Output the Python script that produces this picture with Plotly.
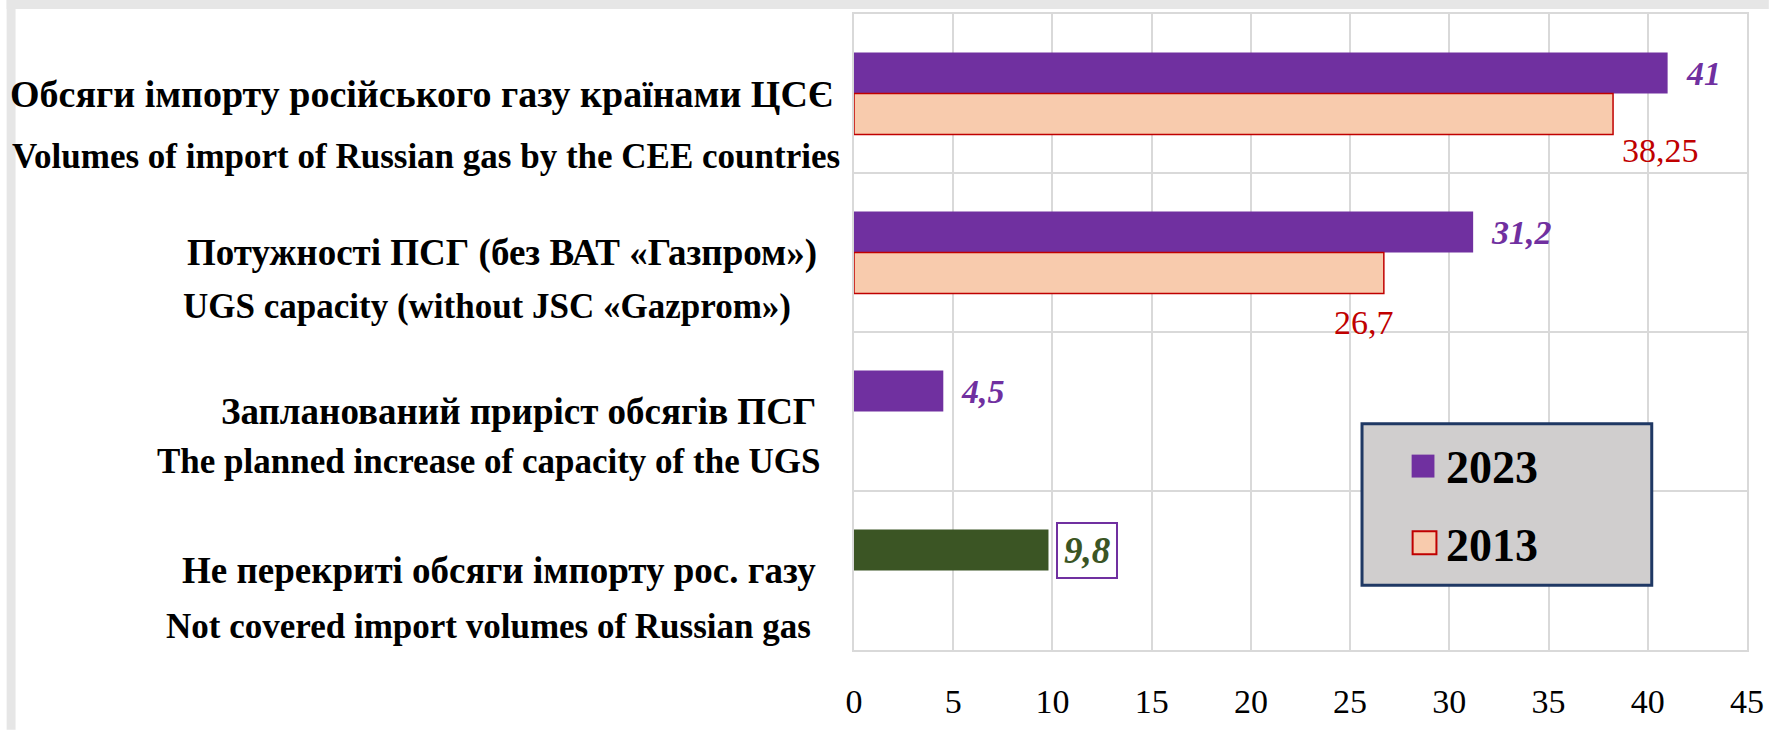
import plotly.graph_objects as go

# ---------------- data ----------------
cat_ua = [
    "Обсяги імпорту російського газу країнами ЦСЄ",
    "Потужності ПСГ (без ВАТ «Газпром»)",
    "Запланований приріст обсягів ПСГ",
    "Не перекриті обсяги імпорту рос. газу",
]
cat_en = [
    "Volumes of import of Russian gas by the CEE countries",
    "UGS capacity (without JSC «Gazprom»)",
    "The planned increase of capacity of the UGS",
    "Not covered import volumes of Russian gas",
]
series_names = ["2023", "2013"]
values_2023 = [41, 31.2, 4.5, 9.8]
values_2013 = [38.25, 26.7, None, None]
x_ticks = [0, 5, 10, 15, 20, 25, 30, 35, 40, 45]

# ---------------- styles ----------------
W, H = 1776, 732
ML, MR, MT, MB = 854, 22, 14, 80
PW, PH = W - ML - MR, H - MT - MB
FONT = "Liberation Serif"
PURPLE = "#7030a0"
GREEN = "#3b5524"
PEACH = "#f8cbad"
RED = "#c00000"
GRID = "#d9d9d9"
colors_2023 = [PURPLE, PURPLE, PURPLE, GREEN]
BARGAP = 0.485
slot = (1 - BARGAP) / 2

# label line styles
ua_right = [836, 819, 818, 818]
en_right = [842, 793, 822, 813]
ua_size = [38, 37, 37, 37]
en_size = [35, 35, 35, 35]
line2_dy = [63, 54, 50, 56]
lbl13_offsets = [(47, 16), (-20, 29)]  # (dx from bar end, dy below bar) in px


def px2x(px):
    return (px - ML) / PW


def py2y(py):
    return 1 - (py - MT) / PH


def fmt(v):
    return f"{v:g}".replace(".", ",")


ypos = list(range(len(cat_ua)))

fig = go.Figure()
fig.add_trace(go.Bar(
    name=series_names[0], y=ypos, x=values_2023, orientation="h",
    marker=dict(color=colors_2023, line=dict(width=0)), showlegend=False,
    hoverinfo="skip",
))
fig.add_trace(go.Bar(
    name=series_names[1], y=ypos, x=values_2013, orientation="h",
    marker=dict(color=PEACH, line=dict(color=RED, width=1.5)), showlegend=False,
    hoverinfo="skip",
))

ann = []
# category labels
for i, (ua, en) in enumerate(zip(cat_ua, cat_en)):
    ann.append(dict(text=ua, xref="paper", x=px2x(ua_right[i]), xanchor="right",
                    yref="y", y=i, yanchor="middle", showarrow=False,
                    font=dict(family=FONT, size=ua_size[i], color="black", weight="bold")))
    ann.append(dict(text=en, xref="paper", x=px2x(en_right[i]), xanchor="right",
                    yref="y", y=i, yanchor="middle", yshift=-line2_dy[i], showarrow=False,
                    font=dict(family=FONT, size=en_size[i], color="black", weight="bold")))

# 2023 value labels
for i, v in enumerate(values_2023):
    boxed = colors_2023[i] == GREEN
    d = dict(text=fmt(v), xref="x", x=v, xanchor="left", yref="y", y=i - slot / 2,
             yanchor="middle", showarrow=False, xshift=8 if boxed else 16,
             font=dict(family=FONT, size=37 if boxed else 34, color=colors_2023[i],
                       weight="bold", style="italic"))
    if boxed:
        d.update(bordercolor=PURPLE, borderwidth=2, borderpad=6, bgcolor="white")
    ann.append(d)

# 2013 value labels
for i, v in enumerate(values_2013):
    if v is None:
        continue
    dx, dy = lbl13_offsets[i]
    ann.append(dict(text=fmt(v), xref="x", x=v, xanchor="center", yref="y", y=i + slot,
                    yanchor="middle", xshift=dx, yshift=-dy, showarrow=False,
                    font=dict(family=FONT, size=34, color=RED)))

# manual legend
shapes = []
shapes.append(dict(type="rect", xref="paper", yref="paper", layer="above",
                   x0=px2x(1366), x1=px2x(1658), y0=py2y(425), y1=py2y(587),
                   fillcolor="#d0cece", line=dict(color="#1f3864", width=3)))
shapes.append(dict(type="rect", xref="paper", yref="paper", layer="above",
                   x0=px2x(1416), x1=px2x(1439), y0=py2y(456), y1=py2y(479),
                   fillcolor=PURPLE, line=dict(width=0)))
shapes.append(dict(type="rect", xref="paper", yref="paper", layer="above",
                   x0=px2x(1417), x1=px2x(1441), y0=py2y(533), y1=py2y(556),
                   fillcolor=PEACH, line=dict(color=RED, width=2)))
for name, cy in zip(series_names, [469, 547]):
    ann.append(dict(text=name, xref="paper", x=px2x(1449), xanchor="left",
                    yref="paper", y=py2y(cy), yanchor="middle", showarrow=False,
                    font=dict(family=FONT, size=46, color="black", weight="bold")))

# page grey border
shapes.append(dict(type="rect", xref="paper", yref="paper", layer="below",
                   x0=px2x(0), x1=px2x(W), y0=py2y(0), y1=py2y(9),
                   fillcolor="#e6e6e6", line=dict(width=0)))
shapes.append(dict(type="rect", xref="paper", yref="paper", layer="below",
                   x0=px2x(0), x1=px2x(9), y0=py2y(0), y1=py2y(H),
                   fillcolor="#e6e6e6", line=dict(width=0)))

fig.update_layout(
    width=W, height=H,
    margin=dict(l=ML, r=MR, t=MT, b=MB),
    paper_bgcolor="white", plot_bgcolor="white",
    barmode="group", bargap=BARGAP, bargroupgap=0,
    annotations=ann, shapes=shapes,
    xaxis=dict(range=[0, 45], tickvals=x_ticks, ticktext=[str(t) for t in x_ticks],
               showgrid=True, gridcolor=GRID, gridwidth=2, zeroline=False,
               showline=True, mirror=True, linecolor=GRID, linewidth=2,
               ticks="", ticklabelstandoff=20,
               tickfont=dict(family=FONT, size=34, color="black")),
    yaxis=dict(range=[len(cat_ua) - 0.5, -0.5], tickvals=[k - 0.5 for k in range(len(cat_ua) + 1)],
               showticklabels=False, showgrid=True, gridcolor=GRID, gridwidth=2,
               zeroline=False, showline=True, mirror=True, linecolor=GRID, linewidth=2,
               ticks=""),
)

fig.write_html("out.html", config={"displayModeBar": False},
               post_script="document.body.style.margin='0px';")
